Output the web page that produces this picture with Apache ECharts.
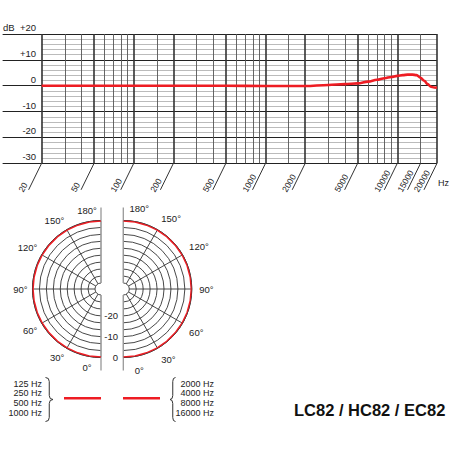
<!DOCTYPE html>
<html><head><meta charset="utf-8">
<script src="https://cdn.jsdelivr.net/npm/echarts@6/dist/echarts.min.js"></script>
<style>html,body{margin:0;padding:0;background:#fff}#c{width:450px;height:450px}</style>
</head><body><div id="c"></div>
<script>
const FONT = 'Liberation Sans, Arial, Helvetica, sans-serif';
const RED = '#ee1c23';
const INK = '#222';

// ---- frequency response (top chart) ----
const FR_FREQS = [20, 50, 100, 200, 500, 1000, 2000, 3000, 4000, 5000, 6000, 7000, 8000, 9000, 10000, 11000, 12000, 13000, 14000, 15000, 16000, 17000, 18000, 19000, 20000];
const FR_DB    = [0, 0, 0, 0, 0, -0.1, -0.1, 0.3, 0.6, 0.9, 1.6, 2.3, 2.9, 3.4, 3.8, 4.1, 4.3, 4.3, 4.1, 3.1, 1.9, 0.6, -0.4, -0.7, -0.8];
const F_MIN = 20, F_MAX = 20000;
const DB_MIN = -30, DB_MAX = 20, DB_STEP = 10;
const X_LABEL_FREQS = [20, 50, 100, 200, 500, 1000, 2000, 5000, 10000, 15000, 20000];
const X_MAJOR_FREQS = [20, 50, 100, 200, 500, 1000, 2000, 5000, 10000, 20000];
const X_MINOR_FREQS = [30, 40, 60, 70, 80, 90, 150, 300, 400, 600, 700, 800, 900, 1500, 3000, 4000, 6000, 7000, 8000, 9000, 15000];

// ---- polar diagrams ----
const POLAR_ANGLES = [0, 10, 20, 30, 40, 50, 60, 70, 80, 90, 100, 110, 120, 130, 140, 150, 160, 170, 180];
const LOW_BAND_DB  = [0, 0, 0, 0, 0, 0, 0, 0, 0, 0, 0, 0, 0, 0, 0, 0, 0, 0, 0];
const HIGH_BAND_DB = [0, 0, 0, 0, 0, 0, 0, 0, 0, 0, 0, 0, 0, 0, 0, 0, 0, 0, 0];
const POLAR_DB_MIN = -30, POLAR_DB_MAX = 0, POLAR_RING_STEP = 10 / 3;
const POLAR_DB_LABELS = [-20, -10, 0];
const ANGLE_MIN = 0, ANGLE_MAX = 180, ANGLE_STEP = 30;
const LOW_FREQS = [125, 250, 500, 1000];
const HIGH_FREQS = [2000, 4000, 8000, 16000];
const TITLE = 'LC82 / HC82 / EC82';

const lg = Math.log10;

const chart = echarts.init(document.getElementById('c'), null, {renderer: 'svg'});

const PL = [101, 289], PR = [123.3, 289], PRAD = [6, 68.5];

function angleAxis(idx, left) {
  return {
    polarIndex: idx, type: 'value', min: ANGLE_MIN, max: ANGLE_MAX, interval: ANGLE_STEP,
    startAngle: -90, endAngle: left ? -270 : 90, clockwise: left,
    axisLine: {show: false},
    axisTick: {show: false},
    splitLine: {show: true, lineStyle: {color: ['#999', '#333', '#333', '#333', '#333', '#333', '#999'], width: 0.9}},
    axisLabel: {
      show: true, margin: left ? 5 : 7.5, fontSize: 9.5, fontFamily: FONT, color: INK,
      formatter: v => (v === ANGLE_MIN || v === ANGLE_MAX)
        ? (left ? '{n|' + v + '°}{sp|}' : '{sp|}{n|' + v + '°}')
        : v + '°',
      rich: {
        n: {width: 24, align: left ? 'right' : 'left', fontSize: 9.5, fontFamily: FONT, color: INK},
        sp: {width: left ? 28 : 32}
      }
    }
  };
}
function overlayAngleAxis(idx, left) {
  return {
    polarIndex: idx, type: 'value', min: ANGLE_MIN, max: ANGLE_MAX,
    startAngle: -90, endAngle: left ? -270 : 90, clockwise: left,
    axisLine: {show: false},
    axisLabel: {show: false},
    axisTick: {show: true, customValues: [ANGLE_MIN, ANGLE_MAX], length: 13, lineStyle: {color: '#999', width: 1.3}},
    splitLine: {show: true, lineStyle: {color: '#999', width: 1.3}}
  };
}
function radiusAxis(idx, withLabels) {
  return {
    polarIndex: idx, type: 'value', min: POLAR_DB_MIN, max: POLAR_DB_MAX, interval: POLAR_RING_STEP,
    axisLine: {show: false}, axisTick: {show: false},
    splitLine: {show: true, lineStyle: {color: '#333', width: 0.9}},
    axisLabel: withLabels ? {
      show: true, customValues: POLAR_DB_LABELS, margin: 17, align: 'right',
      fontSize: 9.5, fontFamily: FONT, color: INK, formatter: v => String(Math.round(v))
    } : {show: false}
  };
}
function overlayRadiusAxis(idx) {
  return {polarIndex: idx, type: 'value', min: POLAR_DB_MIN, max: POLAR_DB_MAX, show: false,
    splitLine: {show: false}, axisLabel: {show: false}, axisTick: {show: false}, axisLine: {show: false}};
}

function brace(L, T, t, b) {
  const m = (L + T) / 2, c = (t + b) / 2, r = 4;
  const st = {stroke: '#333', lineWidth: 1};
  return {type: 'group', children: [
    {type: 'bezierCurve', shape: {x1: L, y1: t, cpx1: m, cpy1: t, x2: m, y2: t + r}, style: st},
    {type: 'line', shape: {x1: m, y1: t + r, x2: m, y2: c - r}, style: st},
    {type: 'bezierCurve', shape: {x1: m, y1: c - r, cpx1: m, cpy1: c, x2: T, y2: c}, style: st},
    {type: 'bezierCurve', shape: {x1: T, y1: c, cpx1: m, cpy1: c, x2: m, y2: c + r}, style: st},
    {type: 'line', shape: {x1: m, y1: c + r, x2: m, y2: b - r}, style: st},
    {type: 'bezierCurve', shape: {x1: m, y1: b - r, cpx1: m, cpy1: b, x2: L, y2: b}, style: st}
  ]};
}

const option = {
  animation: false,
  backgroundColor: '#fff',
  textStyle: {fontFamily: FONT},
  title: {text: TITLE, left: 294, top: 401, padding: 0,
    textStyle: {fontFamily: FONT, fontSize: 16.5, fontWeight: 'bold', color: '#111'}},
  legend: [
    {data: ['low'], orient: 'vertical', right: 349, top: 379, padding: 0, align: 'right',
     icon: 'rect', itemWidth: 37, itemHeight: 2.5, selectedMode: false,
     formatter: () => LOW_FREQS.map(f => f + ' Hz').join('\n'),
     textStyle: {fontFamily: FONT, fontSize: 9, lineHeight: 9.6, color: INK, padding: [0, 17, 0, 0]}},
    {data: ['high'], orient: 'vertical', left: 123, top: 379, padding: 0, align: 'left',
     icon: 'rect', itemWidth: 37, itemHeight: 2.5, selectedMode: false,
     formatter: () => HIGH_FREQS.map(f => '{r|' + f + ' Hz}').join('\n'),
     textStyle: {fontFamily: FONT, fontSize: 9, lineHeight: 9.6, color: INK, padding: [0, 0, 0, 10],
       rich: {r: {width: 39, align: 'right', fontFamily: FONT, fontSize: 9, lineHeight: 9.6, color: INK}}}}
  ],
  grid: {left: 41, top: 34, width: 396.3, height: 129.3, containLabel: false},
  xAxis: [
    {type: 'value', min: lg(F_MIN), max: lg(F_MAX), position: 'bottom',
     axisLine: {show: false, onZero: false}, axisLabel: {show: false},
     axisTick: {show: false, customValues: X_MINOR_FREQS.map(lg)},
     splitLine: {show: true, lineStyle: {color: '#555', width: 0.9}},
     name: '{h|Hz}', nameLocation: 'end', nameGap: 1,
     nameTextStyle: {fontFamily: FONT, fontSize: 9, color: INK, verticalAlign: 'middle',
       rich: {h: {fontFamily: FONT, fontSize: 9, color: INK, padding: [40, 0, 0, 0]}}}},
    {type: 'value', min: lg(F_MIN), max: lg(F_MAX), position: 'bottom',
     axisLine: {show: false, onZero: false}, axisLabel: {show: false},
     axisTick: {show: false, customValues: X_MAJOR_FREQS.map(lg)},
     splitLine: {show: true, lineStyle: {color: '#333', width: 1.6}}}
  ],
  yAxis: {
    type: 'value', min: DB_MIN, max: DB_MAX, interval: DB_STEP,
    axisLine: {show: false, onZero: false},
    axisTick: {show: true, inside: false, length: 39, lineStyle: {color: INK, width: 1}},
    splitLine: {show: true, lineStyle: {color: INK, width: 1}},
    minorTick: {show: false, splitNumber: 5},
    minorSplitLine: {show: true, lineStyle: {color: '#aaa', width: 0.8}},
    axisLabel: {
      margin: 5.5, verticalAlign: 'bottom', lineHeight: 13, fontSize: 9.5, fontFamily: FONT, color: INK,
      formatter: v => v === DB_MAX ? '{u|dB}{v|+' + v + '}' : (v > 0 ? '+' + v : String(v)),
      rich: {
        u: {width: 17, align: 'left', fontSize: 9.5, fontFamily: FONT, color: INK},
        v: {fontSize: 9.5, fontFamily: FONT, color: INK}
      }
    }
  },
  polar: [
    {center: PL, radius: PRAD},
    {center: PR, radius: PRAD},
    {center: PL, radius: PRAD},
    {center: PR, radius: PRAD}
  ],
  angleAxis: [angleAxis(0, true), angleAxis(1, false), overlayAngleAxis(2, true), overlayAngleAxis(3, false)],
  radiusAxis: [radiusAxis(0, true), radiusAxis(1, false), overlayRadiusAxis(2), overlayRadiusAxis(3)],
  graphic: [brace(45.5, 53, 377.5, 421.5), brace(175.5, 170, 377.5, 421.5)],
  series: [
    {type: 'line', name: 'response', xAxisIndex: 0, yAxisIndex: 0,
     data: FR_FREQS.map((f, i) => [lg(f), FR_DB[i]]),
     showSymbol: false, smooth: 0.35, smoothMonotone: 'x',
     lineStyle: {color: RED, width: 2.6}, itemStyle: {color: RED}, z: 5},
    {type: 'custom', name: 'freqLabels', xAxisIndex: 0, yAxisIndex: 0, clip: false, silent: true,
     data: X_LABEL_FREQS.map(f => [lg(f), DB_MIN, f]),
     renderItem: (params, api) => {
       const p = api.coord([api.value(0), api.value(1)]);
       return {type: 'group', children: [
         {type: 'line', shape: {x1: p[0], y1: p[1], x2: p[0] - 13, y2: p[1] + 26.5},
          style: {stroke: '#333', lineWidth: 1}},
         {type: 'text', x: p[0] - 21, y: p[1] + 28, rotation: Math.PI / 3,
          style: {text: String(api.value(2)), align: 'left', verticalAlign: 'middle',
                  font: '8.5px ' + FONT, fill: INK}}
       ]};
     }},
    {type: 'line', name: 'low', coordinateSystem: 'polar', polarIndex: 0,
     data: POLAR_ANGLES.map((a, i) => [LOW_BAND_DB[i], a]),
     showSymbol: false, lineStyle: {color: RED, width: 2.6}, itemStyle: {color: RED}, z: 5},
    {type: 'line', name: 'high', coordinateSystem: 'polar', polarIndex: 1,
     data: POLAR_ANGLES.map((a, i) => [HIGH_BAND_DB[i], a]),
     showSymbol: false, lineStyle: {color: RED, width: 2.6}, itemStyle: {color: RED}, z: 5}
  ]
};
chart.setOption(option);
</script>
</body></html>
